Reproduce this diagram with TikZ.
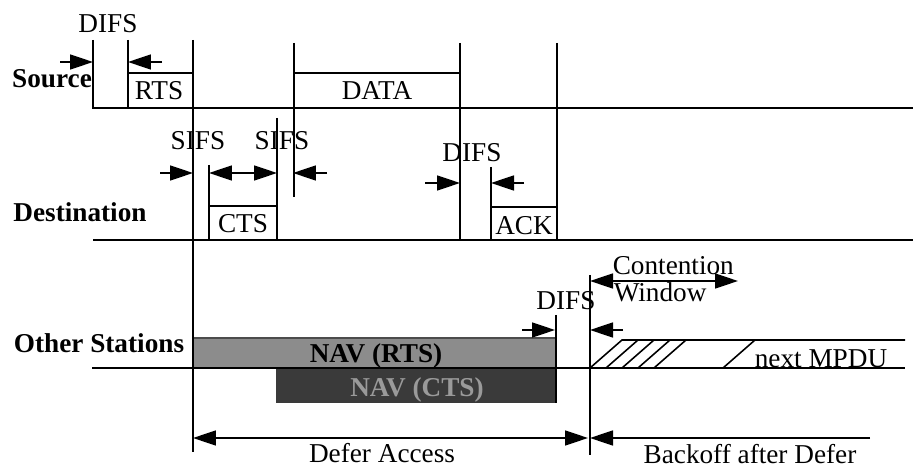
\documentclass[tikz,border=0pt]{standalone}
\usepackage{fontspec}
\setmainfont{Liberation Serif}
\usetikzlibrary{arrows.meta}
\definecolor{navrts}{HTML}{8C8C8C}
\definecolor{navcts}{HTML}{3A3A3A}
\definecolor{navctstext}{HTML}{9A9A9A}
\begin{document}
\begin{tikzpicture}[x=0.02cm,y=-0.02cm,line width=0.9pt,
  tipend/.style={-{Triangle[length=0.46cm,width=0.30cm]}},
  tipboth/.style={{Triangle[length=0.46cm,width=0.30cm]}-{Triangle[length=0.46cm,width=0.30cm]}},
  lbl/.style={font=\fontsize{15.5}{18}\selectfont,inner sep=0pt,anchor=base},
  blbl/.style={font=\fontsize{15.5}{18}\selectfont\bfseries,inner sep=0pt,anchor=base}]
\useasboundingbox (0,0) rectangle (913,469);

% ---------- NAV bars ----------
\fill[navrts] (193,338) rectangle (555,368);
\draw[line width=0.6pt,black!70] (193,338) -- (555,338);
\fill[navcts] (276,368) rectangle (555,403);

% ---------- Source ----------
\draw (93,40) -- (93,108) -- (913,108);
\draw (128,40) -- (128,108);
\draw (128,73) -- (193,73);
\draw (193,40) -- (193,452);
\draw (294,43) -- (294,197);
\draw (294,73) -- (460,73);
\draw (460,43) -- (460,240);
\draw (557,43) -- (557,240);

% ---------- Destination ----------
\draw (93,240) -- (913,240);
\draw (209,165) -- (209,240);
\draw (209,206) -- (277,206);
\draw (277,118) -- (277,240);
\draw (491,167) -- (491,240);
\draw (491,207) -- (557,207);

% ---------- Other stations ----------
\draw (92,368) -- (905,368);
\draw (556,315) -- (556,403);
\draw (590,275) -- (590,455);
\draw (590,368) -- (622,340) -- (905,340);
\foreach \b in {606,622,638,654} \draw (\b,368) -- (\b+32,340);
\draw (723,368) -- (755,340);

% ---------- arrows ----------
\coordinate (d1a) at (60,62);   \coordinate (d1b) at (93,62);
\coordinate (d2a) at (162,62);  \coordinate (d2b) at (128,62);
\draw[tipend] (d1a) -- (d1b);
\draw[tipend] (d2a) -- (d2b);
\coordinate (s1a) at (160,173); \coordinate (s1b) at (193,173);
\coordinate (s2a) at (209,173); \coordinate (s2b) at (277,173);
\coordinate (s3a) at (327,173); \coordinate (s3b) at (293,173);
\draw[tipend] (s1a) -- (s1b);
\draw[tipboth] (s2a) -- (s2b);
\draw[tipend] (s3a) -- (s3b);
\coordinate (e1a) at (425,183); \coordinate (e1b) at (460,183);
\coordinate (e2a) at (524,183); \coordinate (e2b) at (491,183);
\draw[tipend] (e1a) -- (e1b);
\draw[tipend] (e2a) -- (e2b);
\coordinate (o1a) at (522,330); \coordinate (o1b) at (555,330);
\coordinate (o2a) at (623,330); \coordinate (o2b) at (590,330);
\draw[tipend] (o1a) -- (o1b);
\draw[tipend] (o2a) -- (o2b);
\coordinate (cwa) at (590,281); \coordinate (cwb) at (738,281);
\draw[tipboth] (cwa) -- (cwb);
\coordinate (dfa) at (193,438); \coordinate (dfb) at (588,438);
\draw[tipboth] (dfa) -- (dfb);
\coordinate (bka) at (870,438); \coordinate (bkb) at (590,438);
\draw[tipend] (bka) -- (bkb);

% ---------- labels ----------
\node[blbl] (source) at (52,88) {Source};
\node[blbl] (dest) at (80,222) {Destination};
\node[blbl] (other) at (99,353) {Other Stations};
\node[lbl] (difs1) at (108,33) {DIFS};
\node[lbl] (rts) at (159,100) {RTS};
\node[lbl] (data) at (377,100) {DATA};
\node[lbl] (sifs1) at (198,150) {SIFS};
\node[lbl] (sifs2) at (282,150) {SIFS};
\node[lbl] (cts) at (243,233) {CTS};
\node[lbl] (difs2) at (472,162) {DIFS};
\node[lbl] (ack) at (524,235) {ACK};
\node[lbl] (difs3) at (566,310) {DIFS};
\node[lbl,anchor=base west] (cont) at (612,275) {Contention};
\node[lbl,anchor=base west] (win) at (613,302) {Window};
\node[lbl] (mpdu) at (821,368) {next MPDU};
\node[blbl] (navr) at (376,363) {NAV (RTS)};
\node[blbl,text=navctstext] (navc) at (417,397) {NAV (CTS)};
\node[lbl] (defer) at (382,462) {Defer Access};
\node[lbl] (backoff) at (750,463) {Backoff after Defer};
\end{tikzpicture}
\end{document}
